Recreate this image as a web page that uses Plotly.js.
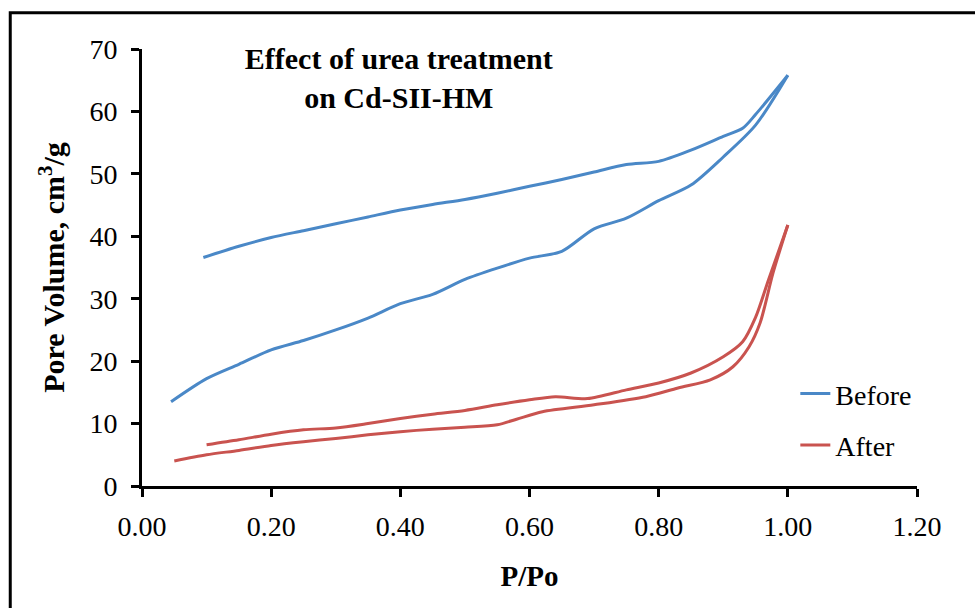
<!DOCTYPE html>
<html>
<head>
<meta charset="utf-8">
<script src="https://cdn.plot.ly/plotly-3.0.1.min.js"></script>
<style>html,body{margin:0;padding:0;background:#fff;}#chart{width:975px;height:608px;}</style>
</head>
<body>
<div id="chart"></div>
<script>
// Before treatment: adsorption (lower) and desorption (upper) branches
const beforeAdsX = [0.045,0.1,0.15,0.2,0.25,0.3,0.35,0.4,0.45,0.5,0.55,0.6,0.65,0.7,0.75,0.8,0.85,0.9,0.95,1.0];
const beforeAdsY = [13.5,17.2,19.5,21.8,23.3,25.0,26.9,29.2,30.7,33.1,34.9,36.5,37.6,41.2,42.9,45.7,48.2,52.7,57.8,65.8];
const beforeDesX = [1.0,0.95,0.93,0.9,0.85,0.8,0.75,0.7,0.65,0.6,0.55,0.5,0.45,0.4,0.35,0.3,0.25,0.2,0.15,0.095];
const beforeDesY = [65.8,59.5,57.3,56.0,53.8,52.0,51.5,50.3,49.1,48.0,46.9,45.9,45.1,44.2,43.1,42.0,40.9,39.8,38.4,36.6];
// After treatment
const afterAdsX = [0.05,0.1,0.15,0.2,0.25,0.3,0.35,0.4,0.45,0.5,0.55,0.58,0.62,0.7,0.78,0.83,0.88,0.915,0.94,0.957,0.977,1.0];
const afterAdsY = [4.0,5.0,5.7,6.5,7.1,7.6,8.2,8.7,9.1,9.4,9.8,10.7,11.9,13.0,14.3,15.7,17.0,19.1,22.3,26.1,34.1,41.8];
const afterDesX = [1.0,0.97,0.95,0.93,0.9,0.85,0.8,0.75,0.69,0.64,0.6,0.55,0.5,0.45,0.4,0.35,0.3,0.25,0.2,0.15,0.1];
const afterDesY = [41.8,33.0,27.0,23.1,20.7,18.1,16.5,15.4,14.0,14.3,13.8,13.0,12.1,11.5,10.8,10.0,9.3,9.0,8.3,7.4,6.6];

const xTickVals = [0,0.2,0.4,0.6,0.8,1.0,1.2];
const xTickText = ['0.00','0.20','0.40','0.60','0.80','1.00','1.20'];
const yTickVals = [0,10,20,30,40,50,60,70];

const blue = '#4A88C7';
const red = '#C9534F';
const font = 'Liberation Serif, Times New Roman, serif';

const traces = [
  {x: beforeAdsX, y: beforeAdsY, name: 'Before', legendgroup: 'before', showlegend: true,
   mode: 'lines', line: {color: blue, width: 3, shape: 'spline', smoothing: 0.8}},
  {x: beforeDesX, y: beforeDesY, name: 'Before', legendgroup: 'before', showlegend: false,
   mode: 'lines', line: {color: blue, width: 3, shape: 'spline', smoothing: 0.8}},
  {x: afterAdsX, y: afterAdsY, name: 'After', legendgroup: 'after', showlegend: true,
   mode: 'lines', line: {color: red, width: 3, shape: 'spline', smoothing: 0.8}},
  {x: afterDesX, y: afterDesY, name: 'After', legendgroup: 'after', showlegend: false,
   mode: 'lines', line: {color: red, width: 3, shape: 'spline', smoothing: 0.8}}
];

const tickFont = {family: font, size: 28, color: '#000'};
const layout = {
  width: 975, height: 608,
  margin: {l: 142, r: 58, t: 49, b: 122},
  paper_bgcolor: '#fff', plot_bgcolor: '#fff',
  font: {family: font, color: '#000'},
  title: {text: '<b>Effect of urea treatment<br>on Cd-SII-HM</b>', font: {family: font, size: 30, color: '#000'},
          x: 0.409, xanchor: 'center', xref: 'container', y: 0.887, yanchor: 'top', yref: 'container'},
  xaxis: {range: [0, 1.2], tickvals: xTickVals, ticktext: xTickText, ticks: 'outside', ticklen: 8, tickwidth: 3,
          tickcolor: '#000', showline: true, linewidth: 3, linecolor: '#000', showgrid: false, zeroline: false,
          tickfont: tickFont, ticklabelstandoff: 5,
          title: {text: '<b>P/Po</b>', font: {family: font, size: 29, color: '#000'}, standoff: 26}},
  xaxis2: {range: [0, 1.2], tickvals: xTickVals, overlaying: 'x', ticks: 'inside', ticklen: 8, tickwidth: 3,
           tickcolor: '#000', showticklabels: false, showline: false, showgrid: false, zeroline: false},
  yaxis: {range: [0, 70], tickvals: yTickVals, ticks: 'outside', ticklen: 8, tickwidth: 3, tickcolor: '#000',
          showline: true, linewidth: 3, linecolor: '#000', showgrid: false, zeroline: false,
          tickfont: tickFont, ticklabelstandoff: 8,
          title: {text: '<b>Pore Volume, cm<sup>3</sup>/g</b>', font: {family: font, size: 30, color: '#000'}, standoff: 16}},
  yaxis2: {range: [0, 70], tickvals: yTickVals, overlaying: 'y', ticks: 'inside', ticklen: 8, tickwidth: 3,
           tickcolor: '#000', showticklabels: false, showline: false, showgrid: false, zeroline: false},
  legend: {x: 0.843, xanchor: 'left', y: 0.268, yanchor: 'top', bgcolor: 'rgba(0,0,0,0)',
           font: {family: font, size: 28, color: '#000'}, tracegroupgap: 12, traceorder: 'grouped'},
  showlegend: true,
  shapes: [{type: 'rect', xref: 'paper', yref: 'paper', x0: -0.170, x1: 1.2, y0: -0.5, y1: 1.083,
            line: {color: '#000', width: 3}, fillcolor: 'rgba(0,0,0,0)', layer: 'above'}]
};

Plotly.newPlot('chart', traces, layout, {displayModeBar: false, staticPlot: true});
</script>
</body>
</html>
